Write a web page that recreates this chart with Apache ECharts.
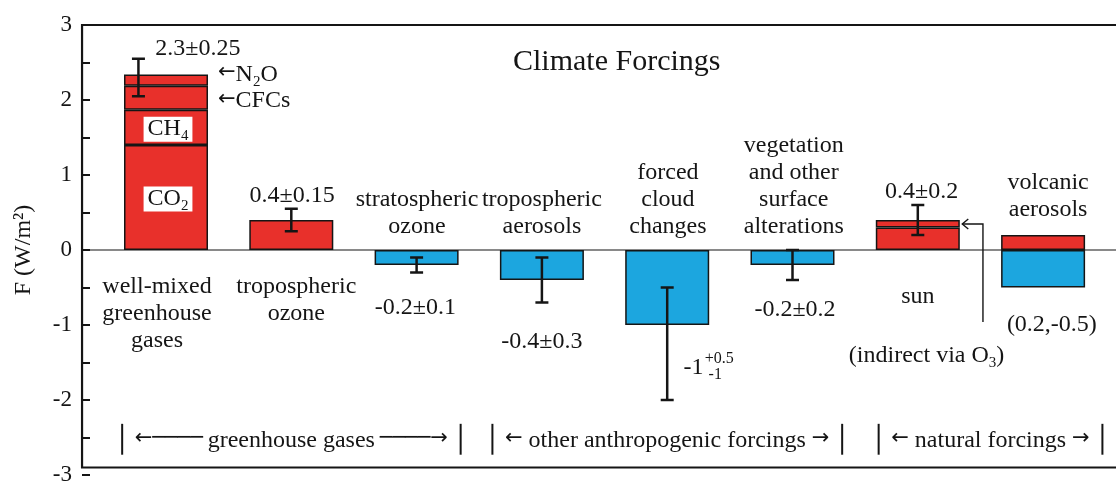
<!DOCTYPE html>
<html>
<head>
<meta charset="utf-8">
<script src="https://cdn.jsdelivr.net/npm/echarts@6/dist/echarts.min.js"></script>
<style>
html, body { margin: 0; padding: 0; background: #fff; }
#container { width: 1116px; height: 487px; }
</style>
</head>
<body>
<div id="container"></div>
<script>
var FONT = 'Liberation Serif';
var RED = '#e8302b';
var BLUE = '#1ca6df';
var INK = '#151515';

var categories = ['well-mixed greenhouse gases', 'tropospheric ozone', 'stratospheric ozone',
                  'tropospheric aerosols', 'forced cloud changes', 'vegetation and other surface alterations',
                  'sun', 'volcanic aerosols'];

// stacked pieces per category
var co2      = [1.4,  null, null, null, null, null, null, null];
var ch4      = [0.47, null, null, null, null, null, null, null];
var cfcs     = [0.32, null, null, null, null, null, null, null];
var n2o      = [0.15, null, null, null, null, null, null, null];
var warming  = [null, 0.4,  null, null, null, null, 0.3,  0.2];
var sunViaO3 = [null, null, null, null, null, null, 0.1,  null];
var cooling  = [null, null, -0.2, -0.4, -1.0, -0.2, null, -0.5];

// error bars (x in category units, 0 = first bar centre)
var errX    = [-0.22, 1,    2,    3,    4,    5,    6];
var errLow  = [2.05,  0.25, -0.3, -0.7, -2.0, -0.4, 0.2];
var errHigh = [2.55,  0.55, -0.1, -0.1, -0.5, 0.0,  0.6];

// text notes, placed in data units
var noteText = [
    '2.3±0.25',
    '{a|←}{m|N}{s|2}{m|O}',
    '{a|←}{m|CFCs}',
    '{m|CH}{s|4}',
    '{m|CO}{s|2}',
    '0.4±0.15',
    'stratospheric\nozone',
    'tropospheric\naerosols',
    'forced\ncloud\nchanges',
    'vegetation\nand other\nsurface\nalterations',
    '0.4±0.2',
    'volcanic\naerosols',
    'well-mixed\ngreenhouse\ngases',
    'tropospheric\nozone',
    '-0.2±0.1',
    '-0.4±0.3',
    '-1',
    '{u|+0.5}',
    '{u|-1}',
    '-0.2±0.2',
    'sun',
    '{m|(indirect via O}{s|3}{m|)}',
    '(0.2,-0.5)',
    '{b|│}{m|\u2009}{a|←────}{m|\u2009greenhouse gases\u2009}{a|────→}{m|\u2009}{b|│}',
    '{b|│}{m|\u2009}{a|←}{m| other anthropogenic forcings }{a|→}{m|\u2009}{b|│}',
    '{b|│}{m|\u2009}{a|←}{m| natural forcings }{a|→}{m|\u2009}{b|│}'
];
var noteX = [0.255, 0.415, 0.415, 0.016, 0.016, 1.006, 2.003, 3.0, 4.006, 5.01, 6.03, 7.04,
             -0.072, 1.04, 1.99, 3.0, 4.21, 4.30, 4.33, 5.02, 6.0, 6.07, 7.07,
             1.0, 4.0, 6.58];
var noteY = [2.69, 2.32, 1.97, 1.61, 0.68, 0.73, 0.487, 0.487, 0.667, 0.853, 0.773, 0.713,
             -0.853, -0.667, -0.773, -1.227, -1.573, -1.45, -1.67, -0.8, -0.627, -1.427, -1.0,
             -2.56, -2.56, -2.56];
var noteAlign = ['center', 'left', 'left', 'center', 'center', 'center', 'center', 'center',
                 'center', 'center', 'center', 'center', 'center', 'center', 'center', 'center',
                 'center', 'left', 'left', 'center', 'center', 'center', 'center',
                 'center', 'center', 'center'];
var noteBoxed = [3, 4];

// arrow from the "indirect via O3" note to the sun bar
var arrowPath = [[6.52, -0.96], [6.52, 0.347], [6.355, 0.347]];

// frame extent in category units (left edge sits on the y axis)
var frameLeft = -0.67, frameRight = 7.582;
var frameBottom = -2.9;

function seriesData(arr) {
    return arr.map(function (v) { return v == null ? '-' : v; });
}

function barSeries(name, arr, color) {
    return {
        name: name,
        type: 'bar',
        stack: 'forcing',
        barWidth: 84,
        data: seriesData(arr),
        itemStyle: { color: color, borderColor: INK, borderWidth: 1.5 },
        silent: true,
        z: 3
    };
}

// category units -> pixels, using the library's axis scale
function toPx(api, p) {
    var c0 = api.coord([0, p[1]]);
    var band = api.size([1, 0])[0];
    return [c0[0] + p[0] * band, c0[1]];
}

var richStyles = {
    m: { fontFamily: FONT, fontSize: 24, lineHeight: 27, verticalAlign: 'top', fill: INK, color: INK },
    s: { fontFamily: FONT, fontSize: 15, lineHeight: 10, verticalAlign: 'bottom', fill: INK, color: INK },
    u: { fontFamily: FONT, fontSize: 16, lineHeight: 16, fill: INK, color: INK },
    a: { fontFamily: 'DejaVu Sans', fontSize: 21, lineHeight: 27, verticalAlign: 'top', fill: INK, color: INK },
    b: { fontFamily: 'DejaVu Sans', fontSize: 26, lineHeight: 27, verticalAlign: 'top', fill: INK, color: INK }
};

var dom = document.getElementById('container');
var myChart = echarts.init(dom);

var option = {
    backgroundColor: '#fff',
    animation: false,
    title: {
        text: 'Climate Forcings',
        left: 508,
        top: 42,
        textStyle: { fontFamily: FONT, fontSize: 30, fontWeight: 'normal', color: INK }
    },
    grid: { left: 103.35, right: 10.25, top: 25, bottom: 12 },
    xAxis: {
        type: 'category',
        data: categories,
        axisLine: { show: false },
        axisTick: { show: false },
        axisLabel: { show: false },
        splitLine: { show: false }
    },
    yAxis: {
        type: 'value',
        min: -3,
        max: 3,
        interval: 0.5,
        offset: 21.35,
        name: 'F (W/m²)',
        nameLocation: 'middle',
        nameRotate: 90,
        nameGap: 46,
        nameTextStyle: { fontFamily: FONT, fontSize: 24, color: INK },
        axisLine: { show: false, onZero: false },
        axisTick: { show: true, inside: true, length: 8, lineStyle: { color: INK, width: 2 } },
        axisLabel: {
            margin: 10,
            fontFamily: FONT,
            fontSize: 23,
            color: INK,
            formatter: function (v) { return v % 1 === 0 ? String(v) : ''; }
        },
        splitLine: { show: false }
    },
    series: [
        barSeries('CO2', co2, RED),
        barSeries('CH4', ch4, RED),
        barSeries('CFCs', cfcs, RED),
        barSeries('N2O', n2o, RED),
        barSeries('warming', warming, RED),
        barSeries('sun via O3', sunViaO3, RED),
        barSeries('cooling', cooling, BLUE),
        {
            name: 'error',
            type: 'custom',
            silent: true,
            z: 5,
            data: errX.map(function (x, i) { return [x, errLow[i], errHigh[i]]; }),
            renderItem: function (params, api) {
                var x = api.value(0);
                var lo = toPx(api, [x, api.value(1)]);
                var hi = toPx(api, [x, api.value(2)]);
                var c = 6.5;
                var st = { stroke: INK, lineWidth: 2.5 };
                return {
                    type: 'group',
                    children: [
                        { type: 'line', shape: { x1: lo[0], y1: lo[1], x2: hi[0], y2: hi[1] }, style: st },
                        { type: 'line', shape: { x1: lo[0] - c, y1: lo[1], x2: lo[0] + c, y2: lo[1] }, style: st },
                        { type: 'line', shape: { x1: hi[0] - c, y1: hi[1], x2: hi[0] + c, y2: hi[1] }, style: st }
                    ]
                };
            }
        },
        {
            name: 'guides',
            type: 'custom',
            silent: true,
            z: 2,
            data: [[0, 0]],
            renderItem: function (params, api) {
                var frame = [[frameRight, 3], [frameLeft, 3], [frameLeft, frameBottom], [frameRight, frameBottom]]
                    .map(function (p) { return toPx(api, p); });
                var zeroL = toPx(api, [frameLeft, 0]);
                var zeroR = toPx(api, [frameRight, 0]);
                var arrow = arrowPath.map(function (p) { return toPx(api, p); });
                var tip = arrow[arrow.length - 1];
                var thin = { stroke: INK, lineWidth: 1.4, fill: null };
                return {
                    type: 'group',
                    children: [
                        { type: 'polyline', shape: { points: frame }, style: { stroke: INK, lineWidth: 2.2, fill: null } },
                        { type: 'line', shape: { x1: zeroL[0], y1: zeroL[1], x2: zeroR[0], y2: zeroR[1] },
                          style: { stroke: INK, lineWidth: 1.2 } },
                        { type: 'polyline', shape: { points: arrow }, style: thin },
                        { type: 'polyline', shape: { points: [[tip[0] + 6, tip[1] - 5], tip, [tip[0] + 6, tip[1] + 5]] },
                          style: thin }
                    ]
                };
            }
        },
        {
            name: 'notes',
            type: 'custom',
            silent: true,
            z: 6,
            data: noteX.map(function (x, i) { return [x, noteY[i]]; }),
            renderItem: function (params, api) {
                var i = params.dataIndex;
                var p = toPx(api, [api.value(0), api.value(1)]);
                var boxed = noteBoxed.indexOf(i) >= 0;
                return {
                    type: 'text',
                    x: p[0],
                    y: p[1],
                    style: {
                        text: noteText[i],
                        align: noteAlign[i],
                        verticalAlign: 'middle',
                        fontFamily: FONT,
                        fontSize: 24,
                        lineHeight: 27,
                        fill: INK,
                        rich: richStyles,
                        backgroundColor: boxed ? '#fff' : null,
                        padding: boxed ? [0, 4, -2, 4] : 0
                    }
                };
            }
        }
    ]
};

myChart.setOption(option);
</script>
</body>
</html>
